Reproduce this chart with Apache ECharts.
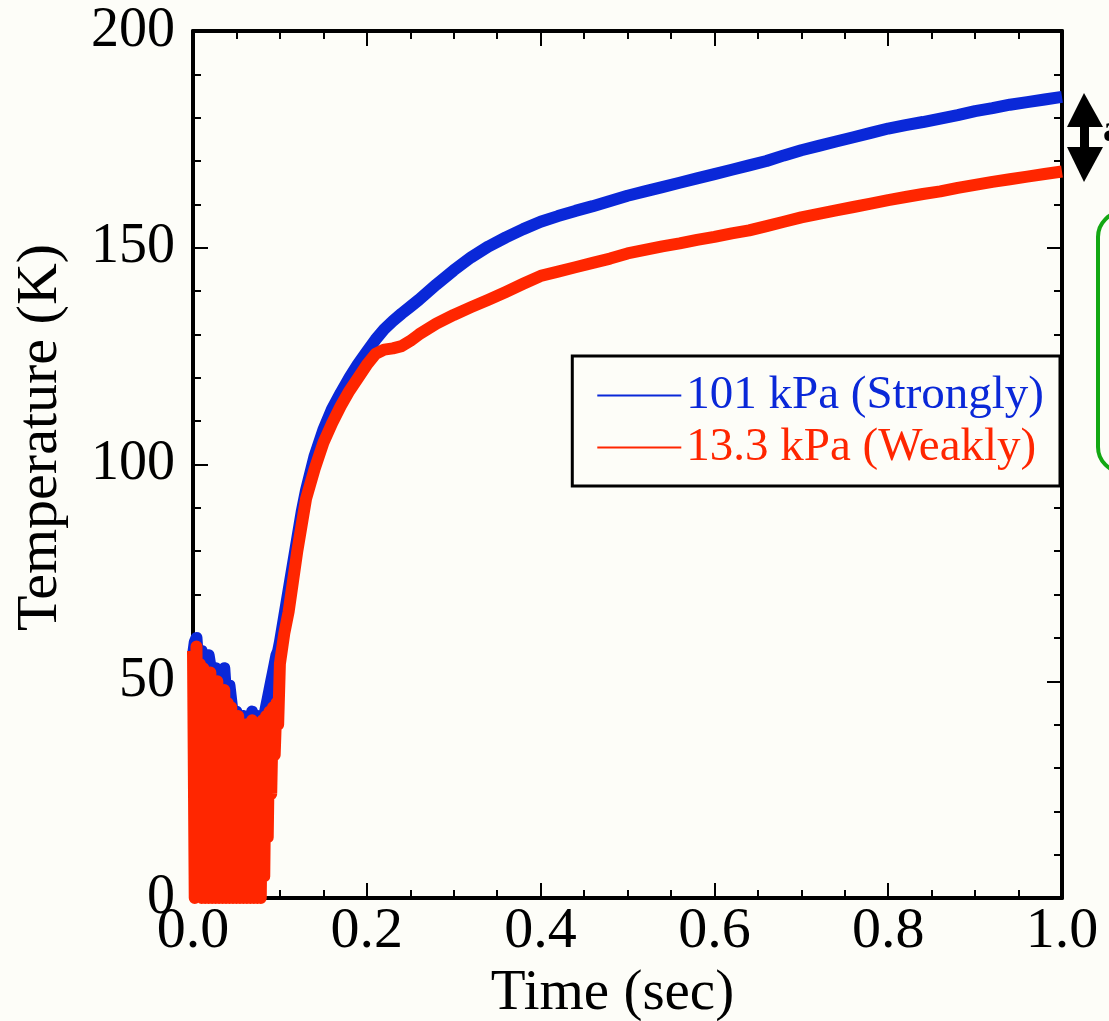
<!DOCTYPE html>
<html>
<head>
<meta charset="utf-8">
<script src="https://cdn.jsdelivr.net/npm/echarts@6/dist/echarts.min.js"></script>
<style>
html,body{margin:0;padding:0;background:#fdfdf8;}
#chart{width:1109px;height:1021px;}
</style>
</head>
<body>
<div id="chart"></div>
<script>
// Time (sec)
const timePoints = [
  0,0.002,0.004,0.006,0.008,0.01,0.012,0.014,0.016,0.018,0.02,0.022,0.024,0.026,0.028,0.03,0.032,0.034,0.036,0.038,
  0.04,0.042,0.044,0.046,0.048,0.05,0.052,0.054,0.056,0.058,0.06,0.062,0.064,0.066,0.068,0.07,0.072,0.074,0.076,0.078,0.08,
  0.082,0.084,0.086,0.088,0.09,0.092,0.094,0.096,0.098,
  0.1,0.105,0.11,0.115,0.12,0.125,0.13,0.14,0.15,0.16,0.17,0.18,0.19,
  0.2,0.21,0.22,0.23,0.24,0.25,0.26,0.28,0.3,0.32,0.34,0.36,0.38,
  0.4,0.42,0.44,0.46,0.48,0.5,0.52,0.54,0.56,0.58,0.6,0.62,0.64,0.66,0.68,0.7,0.72,0.74,0.76,0.78,0.8,
  0.82,0.84,0.86,0.88,0.9,0.92,0.94,0.96,0.98,1.0
];
// 101 kPa (Strongly) temperature (K)
const blueTemps = [
  56,59,60,54,51,57,55,49,50,56,56,51,48,53,53,46,44,51,53,47,
  43,49,49,42,40,43,43,39,38,42,42,39,38,40,43,40,39,42,42,40,39,
  42,44,46,48,50,52,54,56,57,
  59,65,71,77,83,89,94,102,108,112.8,116.5,120,123.2,
  126,128.8,131.2,133.1,134.8,136.4,138,141.5,144.8,147.8,150.3,152.4,154.3,
  156,157.3,158.5,159.6,160.8,162,163,164,165,166,167,168,169,170,171.3,172.5,173.5,174.5,175.5,176.5,177.5,
  178.3,179,179.8,180.6,181.5,182.2,183,183.6,184.2,184.8
];
// 13.3 kPa (Weakly) temperature (K)
const redTemps = [
  57,0,58,2,54,0,53,0,51,0,52,0,49,0,50,0,47,0,48,0,
  45,0,44,0,41,0,42,0,39,0,40,0,39,0,41,0,39,0,40,0,41,
  5,42,14,43,24,44,33,45,40,
  54,61,66,73,80,86,92,99,105,109.5,113.5,117,120,
  123,125.5,126.5,126.8,127.3,128.5,130,132.5,134.5,136.3,138,139.8,141.7,
  143.5,144.5,145.5,146.5,147.5,148.7,149.5,150.3,151,151.8,152.5,153.3,154,155,156,157,157.8,158.6,159.4,160.2,161,
  161.7,162.4,163,163.8,164.5,165.2,165.8,166.4,167,167.6
];
const seriesNames = ['101 kPa (Strongly)', '13.3 kPa (Weakly)'];
const seriesColors = ['#0a28d8', '#ff2600'];
const xTickLabels = ['0.0','0.2','0.4','0.6','0.8','1.0'];

const FONT = "'Liberation Serif','Times New Roman',serif";
const chart = echarts.init(document.getElementById('chart'), null, {renderer:'canvas'});

function axisCommon(show){
  return {
    type:'value',
    axisLine:{show:true, onZero:false, lineStyle:{color:'#000', width:4}},
    axisTick:{show:true, inside:true, length:15, lineStyle:{color:'#000', width:2}},
    splitLine:{show:false},
    axisLabel:{show:show}
  };
}

const option = {
  backgroundColor:'#fdfdf8',
  animation:false,
  grid:{left:193, top:31, right:47, bottom:123, containLabel:false, outerBoundsMode:'none'},
  legend:{
    orient:'vertical',
    right:49, top:356,
    padding:[16,16,15,25],
    itemGap:5,
    itemWidth:84, itemHeight:2,
    icon:'rect',
    selectedMode:false,
    backgroundColor:'#fdfdf8',
    borderColor:'#000', borderWidth:3, borderRadius:0,
    textStyle:{fontFamily:FONT, fontSize:47, lineHeight:46},
    data:[
      {name:seriesNames[0], textStyle:{color:seriesColors[0]}},
      {name:seriesNames[1], textStyle:{color:seriesColors[1]}}
    ]
  },
  xAxis:[
    Object.assign(axisCommon(true), {
      position:'bottom', min:0, max:1, interval:0.2,
      minorTick:{show:true, splitNumber:4, length:8, lineStyle:{color:'#000', width:2}},
      axisLabel:{show:true, fontFamily:FONT, fontSize:58, color:'#000', margin:5,
        formatter:function(v){ return xTickLabels[Math.round(v/0.2)]; }},
      name:'Time (sec)', nameLocation:'middle', nameGap:66,
      nameTextStyle:{fontFamily:FONT, fontSize:57, color:'#000', padding:[0,30,0,0]}
    }),
    Object.assign(axisCommon(false), {
      position:'top', min:0, max:1, interval:0.2,
      minorTick:{show:true, splitNumber:4, length:8, lineStyle:{color:'#000', width:2}}
    })
  ],
  yAxis:[
    Object.assign(axisCommon(true), {
      position:'left', min:0, max:200, interval:50,
      minorTick:{show:true, splitNumber:5, length:8, lineStyle:{color:'#000', width:2}},
      axisLabel:{show:true, fontFamily:FONT, fontSize:56, color:'#000', margin:18},
      name:'Temperature (K)', nameLocation:'middle', nameGap:123, nameRotate:90,
      nameTextStyle:{fontFamily:FONT, fontSize:58, color:'#000', padding:[0,0,0,54]}
    }),
    Object.assign(axisCommon(false), {
      position:'right', min:0, max:200, interval:50,
      minorTick:{show:true, splitNumber:5, length:8, lineStyle:{color:'#000', width:2}}
    })
  ],
  series:[
    {
      name:seriesNames[0], type:'line', xAxisIndex:0, yAxisIndex:0,
      showSymbol:false, symbol:'none',
      color:seriesColors[0],
      lineStyle:{color:seriesColors[0], width:12, join:'round'},
      data: timePoints.map((t,i)=>[t, blueTemps[i]]),
      z:2
    },
    {
      name:seriesNames[1], type:'line', xAxisIndex:0, yAxisIndex:0,
      showSymbol:false, symbol:'none',
      color:seriesColors[1],
      lineStyle:{color:seriesColors[1], width:12, join:'round'},
      data: timePoints.map((t,i)=>[t, redTemps[i]]),
      z:3
    }
  ],
  graphic:[
    {type:'polygon', shape:{points:[[1067,127],[1084,93],[1103,127]]}, style:{fill:'#000'}},
    {type:'rect', shape:{x:1080, y:125, width:9, height:24}, style:{fill:'#000'}},
    {type:'polygon', shape:{points:[[1067,147],[1103,147],[1084,182]]}, style:{fill:'#000'}},
    {type:'text', left:1103, top:112, style:{text:'a', font:"bold 38px 'Liberation Serif', serif", fill:'#000'}},
    {type:'rect', shape:{x:1098, y:212, width:220, height:260, r:25}, style:{fill:'none', stroke:'#13a813', lineWidth:4}}
  ]
};
chart.setOption(option);
</script>
</body>
</html>
